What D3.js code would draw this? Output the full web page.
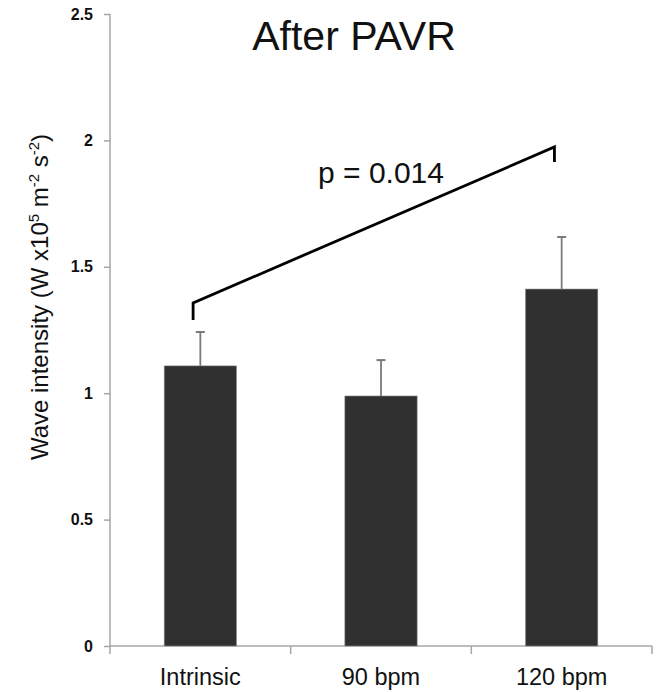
<!DOCTYPE html>
<html>
<head>
<meta charset="utf-8">
<script src="https://cdn.jsdelivr.net/npm/d3@7"></script>
<style>
  html, body { margin: 0; padding: 0; background: #fff; }
  svg { display: block; }
  text { font-family: "Liberation Sans", Arial, sans-serif; fill: #111; }
</style>
</head>
<body>
<svg id="chart" width="659" height="692"></svg>
<script>
// ---- data ----
const categories = ["Intrinsic", "90 bpm", "120 bpm"];
const means = [1.108, 0.989, 1.412];
const errUpper = [1.242, 1.131, 1.618];
const yTicks = [0, 0.5, 1, 1.5, 2, 2.5];
const yTickLabels = ["0", "0.5", "1", "1.5", "2", "2.5"];
// significance bracket: from Intrinsic to 120 bpm (values in y units)
const bracketCats = ["Intrinsic", "120 bpm"];
const bracketLeftY = [1.29, 1.357];
const bracketRightY = [1.974, 1.915];
const pLabel = "p = 0.014";
const chartTitle = "After PAVR";

// ---- layout ----
const svg = d3.select("#chart");
const mLeft = 110, mRight = 652, mTop = 14, mBottom = 646;

const x = d3.scaleBand().domain(categories).range([mLeft, mRight]).padding(0);
const y = d3.scaleLinear().domain([0, 2.5]).range([mBottom, mTop]);
const barW = x.bandwidth() * 0.4;
const cx = c => x(c) + x.bandwidth() / 2;

const axisColor = "#a6a6a6";

// y axis
const yAxis = svg.append("g").attr("transform", `translate(${mLeft},0)`)
  .call(d3.axisLeft(y).tickValues(yTicks).tickFormat((d, i) => yTickLabels[i]).tickSize(6).tickPadding(11));
yAxis.select(".domain").attr("stroke", axisColor).attr("stroke-width", 1.5).attr("d", `M0,${mTop}H0V${mBottom + 8}`);
yAxis.selectAll(".tick line").attr("stroke", axisColor).attr("stroke-width", 1.5);
yAxis.selectAll(".tick text").attr("font-size", 16).attr("font-weight", "bold").attr("fill", "#222")
  .style("font-family", '"Liberation Sans", Arial, sans-serif');

// x axis line and boundary ticks
const xg = svg.append("g");
xg.append("line").attr("x1", mLeft).attr("x2", mRight).attr("y1", mBottom).attr("y2", mBottom)
  .attr("stroke", axisColor).attr("stroke-width", 1.5);
const bounds = categories.map(c => x(c) + x.bandwidth());
xg.selectAll("line.bt").data(bounds).join("line").attr("class", "bt")
  .attr("x1", d => d).attr("x2", d => d).attr("y1", mBottom).attr("y2", mBottom + 8)
  .attr("stroke", axisColor).attr("stroke-width", 1.5);
xg.selectAll("text.xl").data(categories).join("text").attr("class", "xl")
  .attr("x", d => cx(d)).attr("y", mBottom + 39).attr("text-anchor", "middle")
  .attr("font-size", 23.5).text(d => d);

// error bars (upper only)
const eg = svg.append("g");
categories.forEach((c, i) => {
  eg.append("line").attr("x1", cx(c)).attr("x2", cx(c)).attr("y1", y(means[i])).attr("y2", y(errUpper[i]))
    .attr("stroke", "#7a7a7a").attr("stroke-width", 1.8);
  eg.append("line").attr("x1", cx(c) - 4.5).attr("x2", cx(c) + 4.5).attr("y1", y(errUpper[i])).attr("y2", y(errUpper[i]))
    .attr("stroke", "#7a7a7a").attr("stroke-width", 2);
});

// bars
svg.append("g").selectAll("rect").data(categories).join("rect")
  .attr("x", d => cx(d) - barW / 2).attr("width", barW)
  .attr("y", (d, i) => y(means[i])).attr("height", (d, i) => y(0) - y(means[i]))
  .attr("fill", "#303030").attr("stroke", "#8a8a8a").attr("stroke-width", 0.6);

// significance bracket
const off = -x.bandwidth() * 0.04;
const bx0 = cx(bracketCats[0]) + off, bx1 = cx(bracketCats[1]) + off;
const bpath = d3.path();
bpath.moveTo(bx0, y(bracketLeftY[0]));
bpath.lineTo(bx0, y(bracketLeftY[1]));
bpath.lineTo(bx1, y(bracketRightY[0]));
bpath.lineTo(bx1, y(bracketRightY[1]));
svg.append("path").attr("d", bpath.toString()).attr("fill", "none")
  .attr("stroke", "#000").attr("stroke-width", 2.8).attr("stroke-linejoin", "miter");

svg.append("text").attr("x", 381).attr("y", 183).attr("text-anchor", "middle")
  .attr("font-size", 30).attr("fill", "#000").text(pLabel);

// title
svg.append("text").attr("x", 354).attr("y", 50).attr("text-anchor", "middle")
  .attr("font-size", 41).attr("fill", "#000").text(chartTitle);

// y-axis label with superscripts
const yl = svg.append("text").attr("transform", `translate(48,${(mTop + mBottom) / 2 - 33}) rotate(-90)`)
  .attr("text-anchor", "middle").attr("font-size", 24);
yl.append("tspan").text("Wave intensity (W x10");
yl.append("tspan").attr("dy", -9).attr("font-size", 15).text("5");
yl.append("tspan").attr("dy", 9).text(" m");
yl.append("tspan").attr("dy", -9).attr("font-size", 15).text("-2");
yl.append("tspan").attr("dy", 9).text(" s");
yl.append("tspan").attr("dy", -9).attr("font-size", 15).text("-2");
yl.append("tspan").attr("dy", 9).text(")");
</script>
</body>
</html>
